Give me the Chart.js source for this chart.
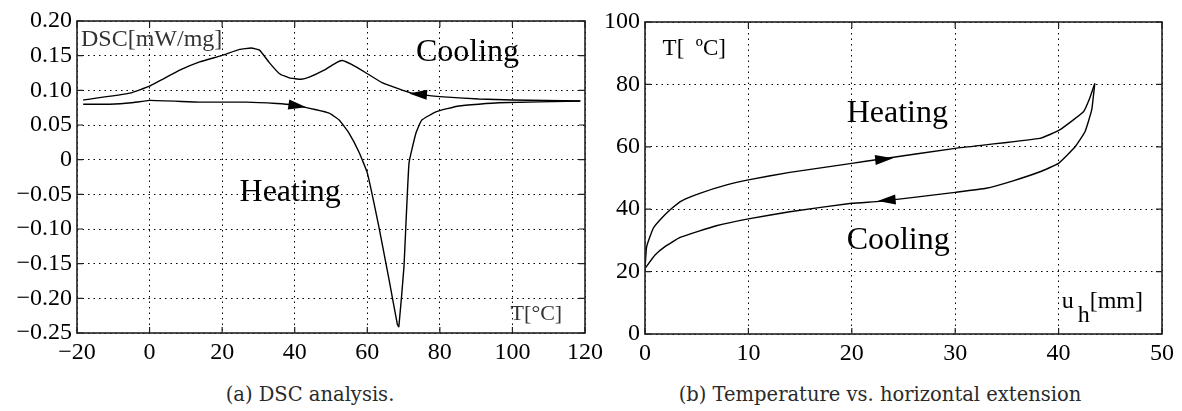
<!DOCTYPE html>
<html>
<head>
<meta charset="utf-8">
<script src="https://cdn.jsdelivr.net/npm/chart.js@4/dist/chart.umd.min.js"></script>
<style>
    html, body { margin: 0; padding: 0; background: #fff; }
    body { width: 1182px; height: 411px; position: relative; overflow: hidden; }
    .box { position: absolute; top: 0; }
    #boxDsc { left: 0; width: 625px; height: 370px; }
    #boxExt { left: 600px; width: 582px; height: 370px; }
    .caption {
        position: absolute; top: 383px; font-family: "DejaVu Serif", serif;
        font-size: 19.5px; line-height: 23px; color: #2a2a2a; transform: translateX(-50%); white-space: nowrap;
    }
</style>
</head>
<body>
<div class="box" id="boxDsc"><canvas id="chartDsc"></canvas></div>
<div class="box" id="boxExt"><canvas id="chartExt"></canvas></div>
<div class="caption" style="left:310px">(a) DSC analysis.</div>
<div class="caption" style="left:880px">(b) Temperature vs. horizontal extension</div>
<script>
// (a) DSC: temperatura [°C] -> przepływ ciepła [mW/mg]
const dscTicksX = [-20, 0, 20, 40, 60, 80, 100, 120];
const dscLabelsX = ['\u221220', '0', '20', '40', '60', '80', '100', '120'];
const dscTicksY = [-0.25, -0.2, -0.15, -0.1, -0.05, 0, 0.05, 0.1, 0.15, 0.2];
const dscLabelsY = ['\u22120.25', '\u22120.20', '\u22120.15', '\u22120.10', '\u22120.05', '0', '0.05', '0.10', '0.15', '0.20'];

const dscCoolT = [-18.3, -5.4, 0, 8.3, 13.8, 19.8, 24.8, 28, 30.3, 33, 35.8, 38.5, 41.8, 44, 48.1, 51.5, 53.1, 55.8, 59.7, 64.1, 68.7, 72.3, 80, 90.7, 100, 118.7];
const dscCoolV = [0.086, 0.096, 0.106, 0.129, 0.141, 0.150, 0.159, 0.161, 0.158, 0.140, 0.124, 0.118, 0.116, 0.119, 0.129, 0.140, 0.143, 0.137, 0.125, 0.111, 0.102, 0.096, 0.091, 0.0875, 0.086, 0.0846];
const dscHeatT = [-18.3, -11, -5, 0, 13.8, 26.7, 35, 39.3, 45.9, 49.5, 52.3, 55, 57.7, 60, 63.2, 66, 68.3, 68.7, 70.1, 71.5, 73.4, 75, 78.9, 85.2, 96.2, 118.7];
const dscHeatV = [0.080, 0.080, 0.082, 0.0855, 0.083, 0.083, 0.081, 0.079, 0.072, 0.067, 0.057, 0.038, 0.011, -0.019, -0.097, -0.173, -0.238, -0.241, -0.155, -0.005, 0.038, 0.057, 0.069, 0.0775, 0.082, 0.0846];
// strzałki: [ogon, grot]
const dscHeatArrow = [[37.5, 0.0802], [43.2, 0.0755]];
const dscCoolArrow = [[76.5, 0.0935], [71.5, 0.0955]];

// (b) temperatura vs wydłużenie poziome u_h [mm]
const extTicksX = [0, 10, 20, 30, 40, 50];
const extTicksY = [0, 20, 40, 60, 80, 100];
const extHeatU = [0, 0.16, 0.8, 1.6, 2.6, 3.55, 5.3, 7.9, 10, 14, 20, 22.7, 30, 38.2, 40.1, 42.4, 43.0, 43.5];
const extHeatT = [21, 28, 33.9, 37.1, 40.3, 42.7, 45.1, 47.8, 49.4, 51.8, 54.7, 56, 59.5, 62.7, 65.4, 71.2, 75.5, 80.3];
const extCoolU = [0, 0.97, 1.93, 3.4, 6.9, 10, 14, 20, 22.7, 26, 30, 33, 35.6, 38.2, 40, 41.6, 42.55, 43.2, 43.5];
const extCoolT = [21, 25.3, 28, 31, 34.7, 36.9, 39.2, 41.9, 42.5, 43.8, 45.4, 46.7, 49.1, 52, 54.7, 60, 64.8, 71.8, 80.3];
const extHeatArrow = [[21.8, 55.6], [24.0, 56.3]];
const extCoolArrow = [[24.3, 43.1], [22.5, 42.6]];

const SERIF = '"Liberation Serif", "Times New Roman", serif';
Chart.defaults.font.family = SERIF;
Chart.defaults.color = '#000';

function toPoints(xs, ys) {
    return xs.map((x, i) => ({ x, y: ys[i] }));
}

function curve(xs, ys) {
    return {
        data: toPoints(xs, ys),
        showLine: true,
        borderColor: '#000',
        borderWidth: 1.4,
        pointRadius: 0,
        tension: 0.12,
    };
}

function axis(opts) {
    return {
        type: 'linear',
        min: opts.ticks[0],
        max: opts.ticks[opts.ticks.length - 1],
        afterBuildTicks: (scale) => { scale.ticks = opts.ticks.map((v) => ({ value: v })); },
        afterFit: (scale) => {
            if (opts.width) scale.width = opts.width;
            if (opts.height) scale.height = opts.height;
        },
        ticks: {
            color: '#000',
            font: { family: SERIF, size: 24 },
            padding: opts.padding,
            maxRotation: 0,
            autoSkip: false,
            callback: (v, i) => opts.labels[i],
        },
        grid: { color: '#000', lineWidth: 1, drawTicks: false },
        border: { display: false, dash: [1.5, 4] },
    };
}

// ramka z kreskami podziałki, strzałki i podpisy rysowane na wierzchu
const decorPlugin = {
    id: 'decor',
    afterDatasetsDraw(chart, args, opts) {
        const { ctx, chartArea: a, scales } = chart;
        const px = (x) => scales.x.getPixelForValue(x);
        const py = (y) => scales.y.getPixelForValue(y);
        ctx.save();
        ctx.strokeStyle = '#222';
        ctx.lineWidth = 1.6;
        ctx.strokeRect(a.left, a.top, a.right - a.left, a.bottom - a.top);

        const tick = 6;
        ctx.lineWidth = 1.2;
        ctx.beginPath();
        scales.x.ticks.forEach((t) => {
            const x = px(t.value);
            ctx.moveTo(x, a.bottom); ctx.lineTo(x, a.bottom - tick);
            ctx.moveTo(x, a.top); ctx.lineTo(x, a.top + tick);
        });
        scales.y.ticks.forEach((t) => {
            const y = py(t.value);
            ctx.moveTo(a.left, y); ctx.lineTo(a.left + tick, y);
            ctx.moveTo(a.right, y); ctx.lineTo(a.right - tick, y);
        });
        ctx.stroke();

        ctx.fillStyle = '#000';
        (opts.arrows || []).forEach(([tail, tip]) => {
            const x0 = px(tail[0]), y0 = py(tail[1]);
            const x1 = px(tip[0]), y1 = py(tip[1]);
            const ang = Math.atan2(y1 - y0, x1 - x0);
            const len = 18, half = 5;
            const bx = x1 - len * Math.cos(ang), by = y1 - len * Math.sin(ang);
            ctx.beginPath();
            ctx.moveTo(x1, y1);
            ctx.lineTo(bx + half * Math.sin(ang), by - half * Math.cos(ang));
            ctx.lineTo(bx - half * Math.sin(ang), by + half * Math.cos(ang));
            ctx.closePath();
            ctx.fill();
        });

        ctx.textAlign = 'left';
        (opts.texts || []).forEach((t) => {
            ctx.font = `${t.size}px ${SERIF}`;
            ctx.fillStyle = t.color || '#000';
            let x = px(t.x);
            const y = py(t.y);
            if (t.sub) {
                // y = linia bazowa, indeks dolny przesunięty w dół
                ctx.textBaseline = 'alphabetic';
                ctx.fillText(t.text, x, y);
                x += ctx.measureText(t.text).width + 4;
                ctx.fillText(t.sub, x, y + 14);
                x += ctx.measureText(t.sub).width;
                ctx.fillText(t.rest, x, y);
            } else {
                ctx.textBaseline = 'middle';
                ctx.fillText(t.text, x, y);
            }
        });
        ctx.restore();
    },
};

new Chart(document.getElementById('chartDsc'), {
    type: 'scatter',
    data: {
        datasets: [curve(dscCoolT, dscCoolV), curve(dscHeatT, dscHeatV)],
    },
    options: {
        responsive: true,
        maintainAspectRatio: false,
        animation: false,
        layout: { padding: { left: 0, top: 21, right: 40, bottom: 0 } },
        scales: {
            x: axis({ ticks: dscTicksX, labels: dscLabelsX, height: 37, padding: 5 }),
            y: axis({ ticks: dscTicksY, labels: dscLabelsY, width: 77, padding: 5 }),
        },
        plugins: {
            legend: { display: false },
            tooltip: { enabled: false },
            decor: {
                arrows: [dscHeatArrow, dscCoolArrow],
                texts: [
                    { text: 'DSC[mW/mg]', x: -18.9, y: 0.1735, size: 24, color: '#333' },
                    { text: 'Cooling', x: 73.4, y: 0.155, size: 32 },
                    { text: 'Heating', x: 24.8, y: -0.047, size: 32 },
                    { text: 'T[\u00B0C]', x: 99.5, y: -0.223, size: 22, color: '#333' },
                ],
            },
        },
    },
    plugins: [decorPlugin],
});

new Chart(document.getElementById('chartExt'), {
    type: 'scatter',
    data: {
        datasets: [curve(extHeatU, extHeatT), curve(extCoolU, extCoolT)],
    },
    options: {
        responsive: true,
        maintainAspectRatio: false,
        animation: false,
        layout: { padding: { left: 0, top: 22, right: 20, bottom: 0 } },
        scales: {
            x: axis({ ticks: extTicksX, labels: extTicksX.map(String), height: 36, padding: 5 }),
            y: axis({ ticks: extTicksY, labels: extTicksY.map(String), width: 45, padding: 5 }),
        },
        plugins: {
            legend: { display: false },
            tooltip: { enabled: false },
            decor: {
                arrows: [extHeatArrow, extCoolArrow],
                texts: [
                    { text: 'T[\u2002\u00BAC]', x: 1.7, y: 91.5, size: 23 },
                    { text: 'Heating', x: 19.5, y: 70.5, size: 32 },
                    { text: 'Cooling', x: 19.5, y: 30, size: 32 },
                    { text: 'u', sub: 'h', rest: '[mm]', x: 40.3, y: 8.3, size: 24 },
                ],
            },
        },
    },
    plugins: [decorPlugin],
});
</script>
</body>
</html>
